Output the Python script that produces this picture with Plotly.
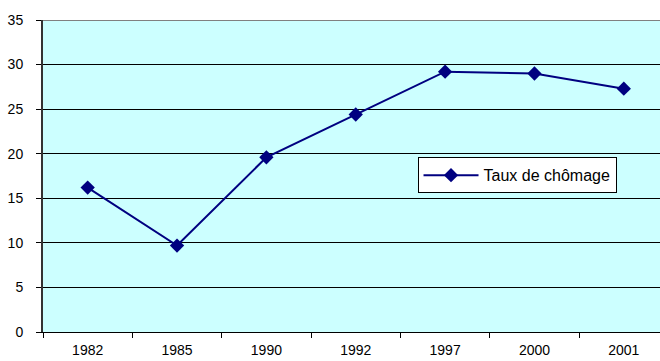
import plotly.graph_objects as go

# Unemployment rate by year
annees = ["1982", "1985", "1990", "1992", "1997", "2000", "2001"]
taux = [16.2, 9.7, 19.6, 24.4, 29.2, 29.0, 27.3]
y_ticks = [0, 5, 10, 15, 20, 25, 30, 35]

fig = go.Figure()
fig.add_trace(go.Scatter(
    x=annees, y=taux, mode="lines+markers", name="Taux de chômage",
    line=dict(color="#000080", width=2),
    marker=dict(symbol="diamond", size=11, color="#000080"),
))

fig.update_layout(
    width=660, height=361,
    margin=dict(l=43, r=0, t=20, b=29),
    paper_bgcolor="white",
    plot_bgcolor="#CCFFFF",
    font=dict(family="Liberation Sans, Arial, sans-serif", size=14, color="black"),
    showlegend=True,
    legend=dict(
        x=0.607, y=0.56, xanchor="left", yanchor="top",
        bgcolor="white", bordercolor="black", borderwidth=1,
        font=dict(size=16), itemwidth=55,
    ),
    xaxis=dict(
        type="category", range=[-0.5, 6.405],
        tickson="boundaries", ticks="outside", ticklen=5, tickcolor="black",
        ticklabelstandoff=5,
        showline=True, linecolor="black", linewidth=1,
        showgrid=False, zeroline=False,
    ),
    yaxis=dict(
        range=[0, 35], tickvals=y_ticks, ticks="outside", ticklen=5,
        ticklabelstandoff=10,
        tickcolor="black", showline=True, linecolor="#333333", linewidth=2,
        gridcolor="black", gridwidth=1, zeroline=False,
    ),
    shapes=[dict(type="line", xref="paper", yref="y", x0=0, x1=1, y0=35, y1=35,
                 line=dict(color="#808080", width=2))],
)

fig.write_html("out.html")
